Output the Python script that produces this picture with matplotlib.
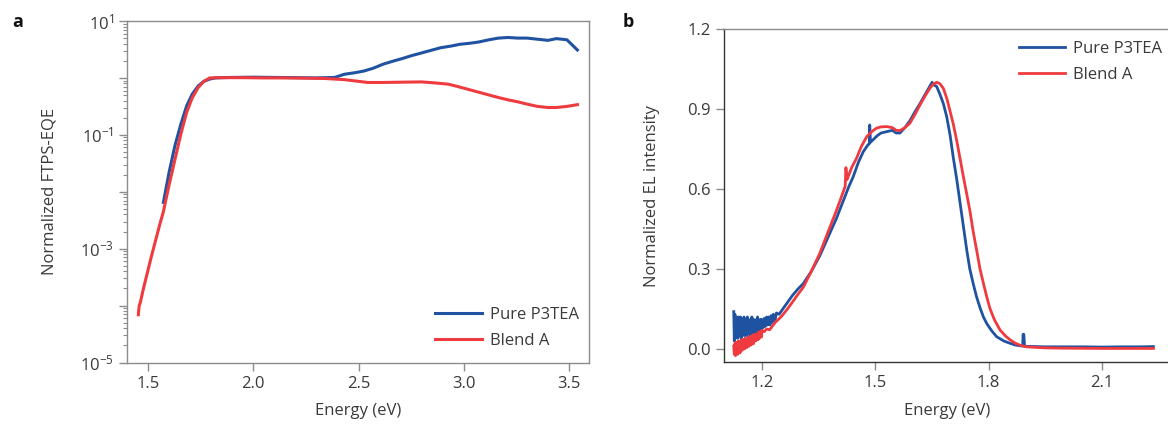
import numpy as np
import matplotlib
matplotlib.use("Agg")
import matplotlib.pyplot as plt
from matplotlib.ticker import FixedLocator, FuncFormatter, LogLocator, NullFormatter

plt.rcParams["font.family"] = ["Open Sans", "DejaVu Sans"]
plt.rcParams["mathtext.fontset"] = "custom"
plt.rcParams["mathtext.rm"] = "Open Sans"
plt.rcParams["mathtext.it"] = "Open Sans"

BLUE = "#2052a2"
RED = "#ef3a3f"
TXT = "#3a3a3a"
GREY = "#8c8c8c"

# ── panel a: FTPS-EQE (log scale) ──
eqe_e_blue = [1.573, 1.60, 1.628, 1.655, 1.683, 1.71, 1.738, 1.765, 1.793, 1.82,
              1.848, 1.9, 2.0, 2.1, 2.2, 2.3, 2.387, 2.433, 2.48, 2.525, 2.57,
              2.616, 2.66, 2.708, 2.75, 2.80, 2.85, 2.89, 2.94, 2.98, 3.03, 3.07,
              3.12, 3.165, 3.21, 3.257, 3.30, 3.35, 3.40, 3.44, 3.49, 3.54]
eqe_blue = [6.5e-3, 0.022, 0.065, 0.15, 0.32, 0.52, 0.72, 0.87, 0.955, 1.0,
            1.01, 1.02, 1.03, 1.02, 1.01, 1.0, 1.02, 1.16, 1.23, 1.32, 1.48,
            1.74, 1.95, 2.19, 2.45, 2.75, 3.09, 3.39, 3.63, 3.89, 4.07, 4.27,
            4.68, 5.01, 5.13, 5.01, 5.01, 4.79, 4.57, 4.90, 4.68, 3.09]

eqe_e_red = [1.454, 1.456, 1.458, 1.463, 1.475, 1.491, 1.515, 1.537, 1.555, 1.573,
             1.60, 1.628, 1.655, 1.683, 1.71, 1.738, 1.765, 1.793, 1.85, 1.95,
             2.05, 2.15, 2.25, 2.34, 2.433, 2.543, 2.616, 2.70, 2.80, 2.87, 2.927,
             2.97, 3.02, 3.09, 3.165, 3.21, 3.257, 3.30, 3.35, 3.40, 3.44, 3.49, 3.54]
eqe_red = [6.9e-5, 8.5e-5, 1.0e-4, 1.12e-4, 1.78e-4, 3.1e-4, 7.1e-4, 1.45e-3, 2.6e-3, 4.5e-3,
           0.0132, 0.037, 0.10, 0.245, 0.447, 0.676, 0.871, 1.0, 1.01, 1.01,
           1.0, 1.0, 0.99, 0.977, 0.933, 0.832, 0.832, 0.841, 0.851, 0.813, 0.776,
           0.708, 0.631, 0.537, 0.452, 0.412, 0.380, 0.347, 0.316, 0.302, 0.302, 0.316, 0.339]

# ── panel b: EL spectra ──
# noisy low-energy tail, read as alternating upper/lower edge of the band
el_e_tail = [1.125, 1.1265, 1.128, 1.1295, 1.131, 1.1325, 1.134, 1.1355, 1.137, 1.1385,
             1.140, 1.1415, 1.143, 1.1445, 1.146, 1.1475, 1.149, 1.1505, 1.152, 1.1535,
             1.155, 1.1565, 1.158, 1.1595, 1.161, 1.1625, 1.164, 1.1655, 1.167, 1.1685,
             1.170, 1.1715, 1.173, 1.1745, 1.176, 1.1775, 1.179, 1.1805, 1.182, 1.1835,
             1.185, 1.1865, 1.188, 1.1895, 1.191, 1.1925, 1.194, 1.1955, 1.197, 1.1985,
             1.200]
el_blue_tail = [0.14, 0.03, 0.13, 0.04, 0.12, 0.05, 0.11, 0.04, 0.12, 0.05,
                0.10, 0.06, 0.12, 0.04, 0.11, 0.05, 0.10, 0.06, 0.12, 0.05,
                0.11, 0.06, 0.10, 0.05, 0.12, 0.06, 0.11, 0.06, 0.10, 0.05,
                0.11, 0.06, 0.12, 0.07, 0.10, 0.06, 0.11, 0.07, 0.10, 0.06,
                0.11, 0.07, 0.12, 0.07, 0.10, 0.07, 0.11, 0.08, 0.11, 0.07,
                0.11]
el_red_tail = [0.01, -0.02, 0.02, -0.025, 0.025, -0.01, 0.02, -0.02, 0.03, -0.005,
               0.025, -0.015, 0.03, 0.0, 0.035, -0.005, 0.03, 0.005, 0.035, 0.0,
               0.04, 0.01, 0.035, 0.005, 0.04, 0.015, 0.045, 0.01, 0.04, 0.02,
               0.045, 0.015, 0.05, 0.025, 0.05, 0.02, 0.055, 0.03, 0.05, 0.03,
               0.055, 0.035, 0.06, 0.035, 0.06, 0.04, 0.065, 0.045, 0.065, 0.045,
               0.07]

el_e_blue = [1.203, 1.206, 1.209, 1.212, 1.215, 1.218, 1.221, 1.224, 1.227, 1.230,
             1.234, 1.238, 1.245, 1.255, 1.265,
             1.28, 1.295, 1.309, 1.33, 1.353, 1.375, 1.397, 1.415, 1.43, 1.441,
             1.455, 1.468, 1.480, 1.484, 1.485, 1.487, 1.505, 1.515, 1.53, 1.545,
             1.555, 1.565, 1.578, 1.591, 1.605, 1.618, 1.632, 1.644, 1.650, 1.655,
             1.662, 1.671, 1.680, 1.689, 1.698, 1.706, 1.715, 1.724, 1.733, 1.742,
             1.750, 1.759, 1.768, 1.777, 1.786, 1.795, 1.808, 1.821, 1.84, 1.857,
             1.87, 1.883, 1.890, 1.891, 1.893, 1.895, 1.92, 1.95, 2.0, 2.05,
             2.10, 2.15, 2.20, 2.236]
el_blue = [0.08, 0.115, 0.085, 0.12, 0.09, 0.12, 0.09, 0.125, 0.10, 0.13,
           0.105, 0.135, 0.13, 0.15, 0.17,
           0.20, 0.225, 0.245, 0.29, 0.35, 0.42, 0.49, 0.555, 0.61, 0.645,
           0.70, 0.74, 0.765, 0.77, 0.84, 0.775, 0.80, 0.81, 0.815, 0.82,
           0.81, 0.81, 0.83, 0.855, 0.89, 0.92, 0.955, 0.985, 1.0, 0.99,
           0.985, 0.955, 0.92, 0.87, 0.80, 0.72, 0.64, 0.55, 0.46, 0.37,
           0.30, 0.245, 0.195, 0.155, 0.12, 0.095, 0.068, 0.046, 0.03, 0.021,
           0.015, 0.012, 0.011, 0.055, 0.055, 0.010, 0.009, 0.008, 0.008, 0.008,
           0.007, 0.008, 0.008, 0.009]

el_e_red = [1.206, 1.212, 1.220,
            1.235, 1.25, 1.265, 1.28, 1.295, 1.309, 1.33, 1.353, 1.375, 1.397,
            1.41, 1.42, 1.422, 1.425, 1.437, 1.450, 1.463, 1.477, 1.49, 1.503,
            1.515, 1.53, 1.545, 1.555, 1.565, 1.578, 1.591, 1.605, 1.618, 1.632,
            1.644, 1.653, 1.662, 1.671, 1.68, 1.689, 1.697, 1.706, 1.715, 1.724,
            1.733, 1.742, 1.75, 1.759, 1.768, 1.777, 1.786, 1.795, 1.803, 1.815,
            1.83, 1.845, 1.857, 1.87, 1.883, 1.90, 1.95, 2.0, 2.1, 2.2, 2.236]
el_red = [0.065, 0.075, 0.072,
          0.10, 0.12, 0.146, 0.175, 0.205, 0.231, 0.29, 0.359, 0.44, 0.52,
          0.57, 0.61, 0.68, 0.635, 0.68, 0.715, 0.76, 0.796, 0.815, 0.828,
          0.833, 0.834, 0.83, 0.82, 0.819, 0.83, 0.846, 0.88, 0.915, 0.95,
          0.977, 0.993, 1.0, 0.995, 0.977, 0.94, 0.896, 0.845, 0.784, 0.715,
          0.646, 0.58, 0.52, 0.44, 0.371, 0.30, 0.246, 0.195, 0.153, 0.11,
          0.071, 0.048, 0.034, 0.022, 0.014, 0.008, 0.004, 0.003, 0.002, 0.002, 0.002]

labels = ["Pure P3TEA", "Blend A"]

W, H = 1168, 426
fig = plt.figure(figsize=(W / 100, H / 100), dpi=100)


def px_axes(left, top, right, bottom):
    return fig.add_axes([left / W, 1 - bottom / H, (right - left) / W, (bottom - top) / H])


def style_legend(leg):
    for t in leg.get_texts():
        t.set_color(TXT)


# ── panel a ──
ax = px_axes(127, 21, 589, 362.5)
ax.plot(eqe_e_blue, eqe_blue, color=BLUE, lw=2.2, label=labels[0])
ax.plot(eqe_e_red, eqe_red, color=RED, lw=2.2, label=labels[1])
ax.set_yscale("log")
ax.set_xlim(1.4, 3.595)
ax.set_ylim(1e-5, 10)
ax.set_xticks([1.5, 2.0, 2.5, 3.0, 3.5])
ax.xaxis.set_major_formatter(FuncFormatter(lambda v, p: f"{v:.1f}"))
ax.yaxis.set_major_locator(FixedLocator([10.0 ** k for k in range(-5, 2)]))
ax.yaxis.set_major_formatter(FuncFormatter(
    lambda v, p: (r"$10^{%d}$" % round(np.log10(v))).replace("-", "\u2212")
    if round(np.log10(v)) % 2 else ""))
ax.yaxis.set_minor_locator(LogLocator(base=10, subs=np.arange(2, 10), numticks=20))
ax.yaxis.set_minor_formatter(NullFormatter())
for s in ax.spines.values():
    s.set_color(GREY)
    s.set_linewidth(1.0)
ax.tick_params(axis="both", which="major", colors=GREY, labelcolor=TXT, labelsize=12,
               direction="out", length=6, width=1.0)
ax.tick_params(axis="y", which="minor", colors=GREY, direction="out", length=3, width=0.8)
ax.set_xlabel("Energy (eV)", fontsize=12, color=TXT, labelpad=8)
ax.set_ylabel("Normalized FTPS-EQE", fontsize=12, color=TXT, labelpad=16)
style_legend(ax.legend(loc="lower right", bbox_to_anchor=(1.01, -0.005), frameon=False,
                       fontsize=12, handlelength=2.8, handletextpad=0.45, labelspacing=0.62))
fig.text(12 / W, 1 - 22 / H, "a", fontsize=13, fontweight="bold", va="center", color="#111")

# ── panel b ──
bx = px_axes(724.3, 29, 1170, 362.3)
bx.plot(el_e_tail + el_e_blue, el_blue_tail + el_blue, color=BLUE, lw=2.0, label=labels[0])
bx.plot(el_e_tail + el_e_red, el_red_tail + el_red, color=RED, lw=2.0, label=labels[1])
bx.set_xlim(1.10, 2.28)
bx.set_ylim(-0.05, 1.2)
bx.set_xticks([1.2, 1.5, 1.8, 2.1])
bx.set_yticks([0.0, 0.3, 0.6, 0.9, 1.2])
bx.xaxis.set_major_formatter(FuncFormatter(lambda v, p: f"{v:.1f}"))
bx.yaxis.set_major_formatter(FuncFormatter(lambda v, p: f"{v:.1f}"))
bx.spines["right"].set_visible(False)
bx.spines["top"].set_color(GREY)
for k in ["left", "bottom"]:
    bx.spines[k].set_color("#333333")
for s in bx.spines.values():
    s.set_linewidth(1.0)
bx.tick_params(axis="both", colors=GREY, labelcolor=TXT, labelsize=12,
               direction="out", length=6, width=1.0)
bx.set_xlabel("Energy (eV)", fontsize=12, color=TXT, labelpad=8)
bx.set_ylabel("Normalized EL intensity", fontsize=12, color=TXT, labelpad=20)
style_legend(bx.legend(loc="upper right", bbox_to_anchor=(1.015, 1.01), frameon=False,
                       fontsize=12, handlelength=2.8, handletextpad=0.45, labelspacing=0.62))
fig.text(623 / W, 1 - 22 / H, "b", fontsize=13, fontweight="bold", va="center", color="#111")

fig.savefig("out.png", dpi=100)
